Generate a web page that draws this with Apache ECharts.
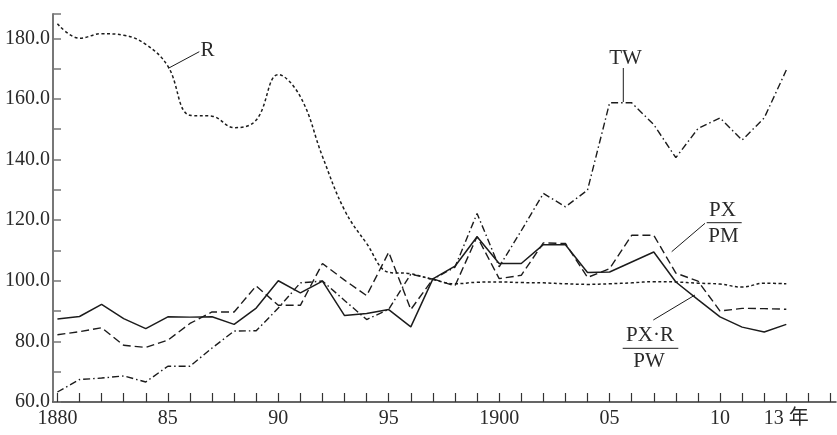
<!DOCTYPE html>
<html><head><meta charset="utf-8">
<script src="https://cdn.jsdelivr.net/npm/echarts@6/dist/echarts.min.js"></script>
<style>html,body{margin:0;padding:0;background:#fff}#c{width:837px;height:435px}</style>
</head><body><div id="c"></div><script>
const years = [1880,1881,1882,1883,1884,1885,1886,1887,1888,1889,1890,1891,1892,1893,1894,1895,1896,1897,1898,1899,1900,1901,1902,1903,1904,1905,1906,1907,1908,1909,1910,1911,1912,1913];
const seriesR = [184.8,180.0,181.5,181.0,178.0,170.8,154.6,154.3,150.5,153.0,168.0,160.7,141.0,123.3,112.3,102.8,102.3,100.4,99.0,99.5,99.6,99.4,99.3,99.0,98.8,99.0,99.3,99.7,99.6,99.2,98.9,97.9,99.2,99.0];
const seriesTW = [63.3,67.4,67.9,68.6,66.6,71.8,71.8,77.8,83.4,83.5,91.0,99.3,99.9,93.5,87.2,90.6,102.2,100.5,104.5,122.2,104.6,116.5,128.8,124.4,129.9,158.7,158.7,151.5,140.6,150.2,153.7,146.4,153.7,169.5];
const seriesPXPM = [82.2,83.2,84.5,78.7,78.0,80.4,85.9,89.7,89.7,98.3,91.9,91.9,105.7,100.2,95.1,109.4,90.5,100.6,98.3,114.6,100.7,101.8,112.5,112.3,101.1,104.0,115.0,115.0,102.5,99.9,90.0,90.9,90.8,90.6];
const seriesPXRPW = [87.4,88.2,92.2,87.5,84.2,88.1,88.0,88.1,85.6,91.0,100.0,96.0,99.9,88.5,89.2,90.5,84.8,100.6,104.8,114.5,105.7,105.7,111.9,111.9,102.7,102.9,106.2,109.5,99.6,93.8,88.1,84.7,83.1,85.6];
const xTickValues = [1880,1881,1882,1883,1884,1885,1886,1887,1888,1889,1890,1891,1892,1893,1894,1895,1896,1897,1898,1899,1900,1901,1902,1903,1904,1905,1906,1907,1908,1909,1910,1911,1912,1913,1914,1915];
const xLabelValues = [1880,1885,1890,1895,1900,1905,1910,1913];
const xLabelTexts = ['1880','85','90','95','1900','05','10','13 年'];
const yTickValues = [60,70,80,90,100,110,120,130,140,150,160,170,180,188];
const yLabelValues = [60,80,100,120,140,160,180];

const FONT = '"Liberation Serif","Times New Roman","Noto Sans CJK SC",serif';
const TXT = '#2a2a2a';
const LINE = '#1c1c1c';

function pairs(vals){ return years.map((y,i)=>[y, vals[i]]); }

const chart = echarts.init(document.getElementById('c'), null, {renderer:'canvas'});
const option = {
  backgroundColor:'#fff',
  animation:false,
  grid:{left:53, right:1, top:14, bottom:33, containLabel:false, outerBoundsMode:'none'},
  xAxis:{
    type:'value', min:1879.8, max:1915.25,
    axisLine:{show:true, lineStyle:{color:'#333', width:1.5}},
    axisTick:{show:true, inside:true, length:9, customValues:xTickValues, lineStyle:{color:'#333', width:1.2}},
    axisLabel:{
      customValues:xLabelValues, margin:7, color:TXT, fontFamily:FONT, fontSize:20,
      formatter:function(v){ const i = xLabelValues.indexOf(Math.round(v)); return i>=0 ? xLabelTexts[i] : ''; }
    },
    splitLine:{show:false}
  },
  yAxis:{
    type:'value', min:60, max:188,
    axisLine:{show:true, lineStyle:{color:'#777', width:2}},
    axisTick:{show:true, inside:true, length:8, customValues:yTickValues, lineStyle:{color:'#777', width:1.5}},
    axisLabel:{customValues:yLabelValues, margin:3, color:TXT, fontFamily:FONT, fontSize:20,
      formatter:function(v){ return v.toFixed(1); }},
    splitLine:{show:false}
  },
  series:[
    {name:'R', type:'line', data:pairs(seriesR), symbol:'none', smooth:0.4,
      lineStyle:{color:LINE, width:1.5, type:[3,2.5]}},
    {name:'TW', type:'line', data:pairs(seriesTW), symbol:'none',
      lineStyle:{color:LINE, width:1.4, type:[7,3,1.5,3]}},
    {name:'PX/PM', type:'line', data:pairs(seriesPXPM), symbol:'none',
      lineStyle:{color:LINE, width:1.4, type:[8,4]}},
    {name:'PX·R/PW', type:'line', data:pairs(seriesPXRPW), symbol:'none',
      lineStyle:{color:LINE, width:1.5, type:'solid'}}
  ],
  graphic:[
    {type:'line', shape:{x1:168.3,y1:68.3,x2:199.3,y2:51.7}, style:{stroke:LINE, lineWidth:1}},
    {type:'text', x:207.5, y:50.5, style:{text:'R', font:'21px '+FONT, fill:TXT, textAlign:'center', textVerticalAlign:'middle'}},
    {type:'line', shape:{x1:623.3,y1:68,x2:623.3,y2:102}, style:{stroke:LINE, lineWidth:1}},
    {type:'text', x:625.5, y:58.5, style:{text:'TW', font:'21px '+FONT, fill:TXT, textAlign:'center', textVerticalAlign:'middle'}},
    {type:'line', shape:{x1:671.7,y1:251.7,x2:705,y2:223.3}, style:{stroke:LINE, lineWidth:1}},
    {type:'text', x:722.5, y:210, style:{text:'PX', font:'21px '+FONT, fill:TXT, textAlign:'center', textVerticalAlign:'middle'}},
    {type:'line', shape:{x1:706.7,y1:222.7,x2:741.7,y2:222.7}, style:{stroke:LINE, lineWidth:1}},
    {type:'text', x:723.5, y:236.5, style:{text:'PM', font:'21px '+FONT, fill:TXT, textAlign:'center', textVerticalAlign:'middle'}},
    {type:'line', shape:{x1:653.3,y1:320,x2:695,y2:295}, style:{stroke:LINE, lineWidth:1}},
    {type:'text', x:650, y:335, style:{text:'PX·R', font:'21px '+FONT, fill:TXT, textAlign:'center', textVerticalAlign:'middle'}},
    {type:'line', shape:{x1:622.7,y1:348.3,x2:678.3,y2:348.3}, style:{stroke:LINE, lineWidth:1}},
    {type:'text', x:649, y:361.5, style:{text:'PW', font:'21px '+FONT, fill:TXT, textAlign:'center', textVerticalAlign:'middle'}}
  ]
};
chart.setOption(option);
</script></body></html>
